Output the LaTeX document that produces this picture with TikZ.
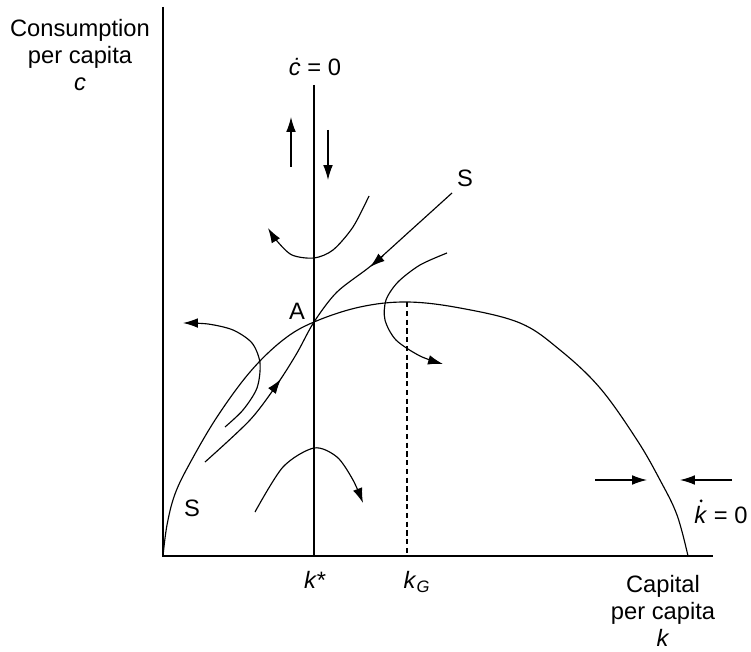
\documentclass[tikz,border=0pt]{standalone}
\usepackage{fontspec}
\setmainfont{Liberation Sans}
\usetikzlibrary{arrows.meta}

\begin{document}
\begin{tikzpicture}[
        x=0.02cm, y=-0.02cm,
        % Style for the two axes
        axis/.style={draw=black, line width=0.7pt},
        % Style for the plain curves
        curve/.style={draw=black, line width=0.65pt},
        % Style for the paths that end in an arrow
        flow/.style={curve, -{Latex[length=8.5pt, width=5.5pt]}},
        % Style for all texts
        tag/.style={font=\fontsize{13.5}{15.5}\selectfont, align=center, inner sep=0pt}
    ]
    \useasboundingbox (0,0) rectangle (751,652);

    % --- Coordinates ---
    \coordinate (origin) at (163,556);
    \coordinate (ytop) at (163,7);
    \coordinate (xend) at (713,556);
    \coordinate (A) at (314,322);
    \coordinate (peak) at (407,302);

    % --- Axes ---
    \draw [axis] (ytop) -- (origin) -- (xend);

    % c-dot = 0 line and golden rule line
    \draw [curve] (314,85) -- (314,556);
    \draw [curve, dash pattern=on 3pt off 2pt] (peak) -- (407,556);

    % k-dot = 0 curve
    \draw [curve] plot [smooth, tension=0.6] coordinates {
        (163,556) (167,525) (175,494) (190,463) (217,417) (250,372) (283,340)
        (314,322) (360,307) (407,302) (460,308) (520,323) (560,350) (600,388)
        (637,440) (660,480) (677,515) (688,556)};

    % --- Saddle path S ---
    \draw [curve] plot [smooth] coordinates {
        (205,462) (250,420) (278,383) (297,353) (314,322) (337,292)
        (372,265) (410,231) (452,193)};
    \draw [flow] (272,391) -- (281,379);
    \draw [flow] (383,256) -- (370,267);

    % --- Other paths ---
    \draw [flow] plot [smooth] coordinates {
        (369,196) (353,227) (333,250) (314,258) (292,255) (277,241) (268,228)};
    \draw [flow] plot [smooth] coordinates {
        (225,427) (243,410) (257,388) (260,363) (252,343) (233,330) (208,324) (183,323)};
    \draw [flow] plot [smooth] coordinates {
        (447,253) (420,265) (398,282) (386,300) (385,320) (396,340) (420,356) (443,364)};
    \draw [flow] plot [smooth] coordinates {
        (255,512) (283,467) (314,448) (337,457) (353,480) (363,503)};

    % Arrows along the axes of motion
    \draw [flow] (291,167) -- (291,117);
    \draw [flow] (328,130) -- (328,180);
    \draw [flow] (595,480) -- (647,480);
    \draw [flow] (732,480) -- (680,480);

    % --- Labels ---
    \node [tag] (ctext) at (80,55) {Consumption\\per capita\\\textit{c}};
    \node [tag] (cdot) at (315,67) {\textit{\.{c}} = 0};
    \node [tag] (Supper) at (465,178) {S};
    \node [tag] (Atext) at (297,311) {A};
    \node [tag] (Slower) at (192,508) {S};
    \node [tag] (kstar) at (315,580) {\textit{k*}};
    \node [tag] (kgold) at (417,582) {\textit{k}\textsubscript{\textit{G}}};
    \node [tag] (kdot) at (721,515) {\textit{k} = 0};
    \fill (kdot.north west) ++(7,-5) circle (0.9pt); % dot over k
    \node [tag] (ktext) at (663,611) {Capital\\per capita\\\textit{k}};

\end{tikzpicture}
\end{document}
